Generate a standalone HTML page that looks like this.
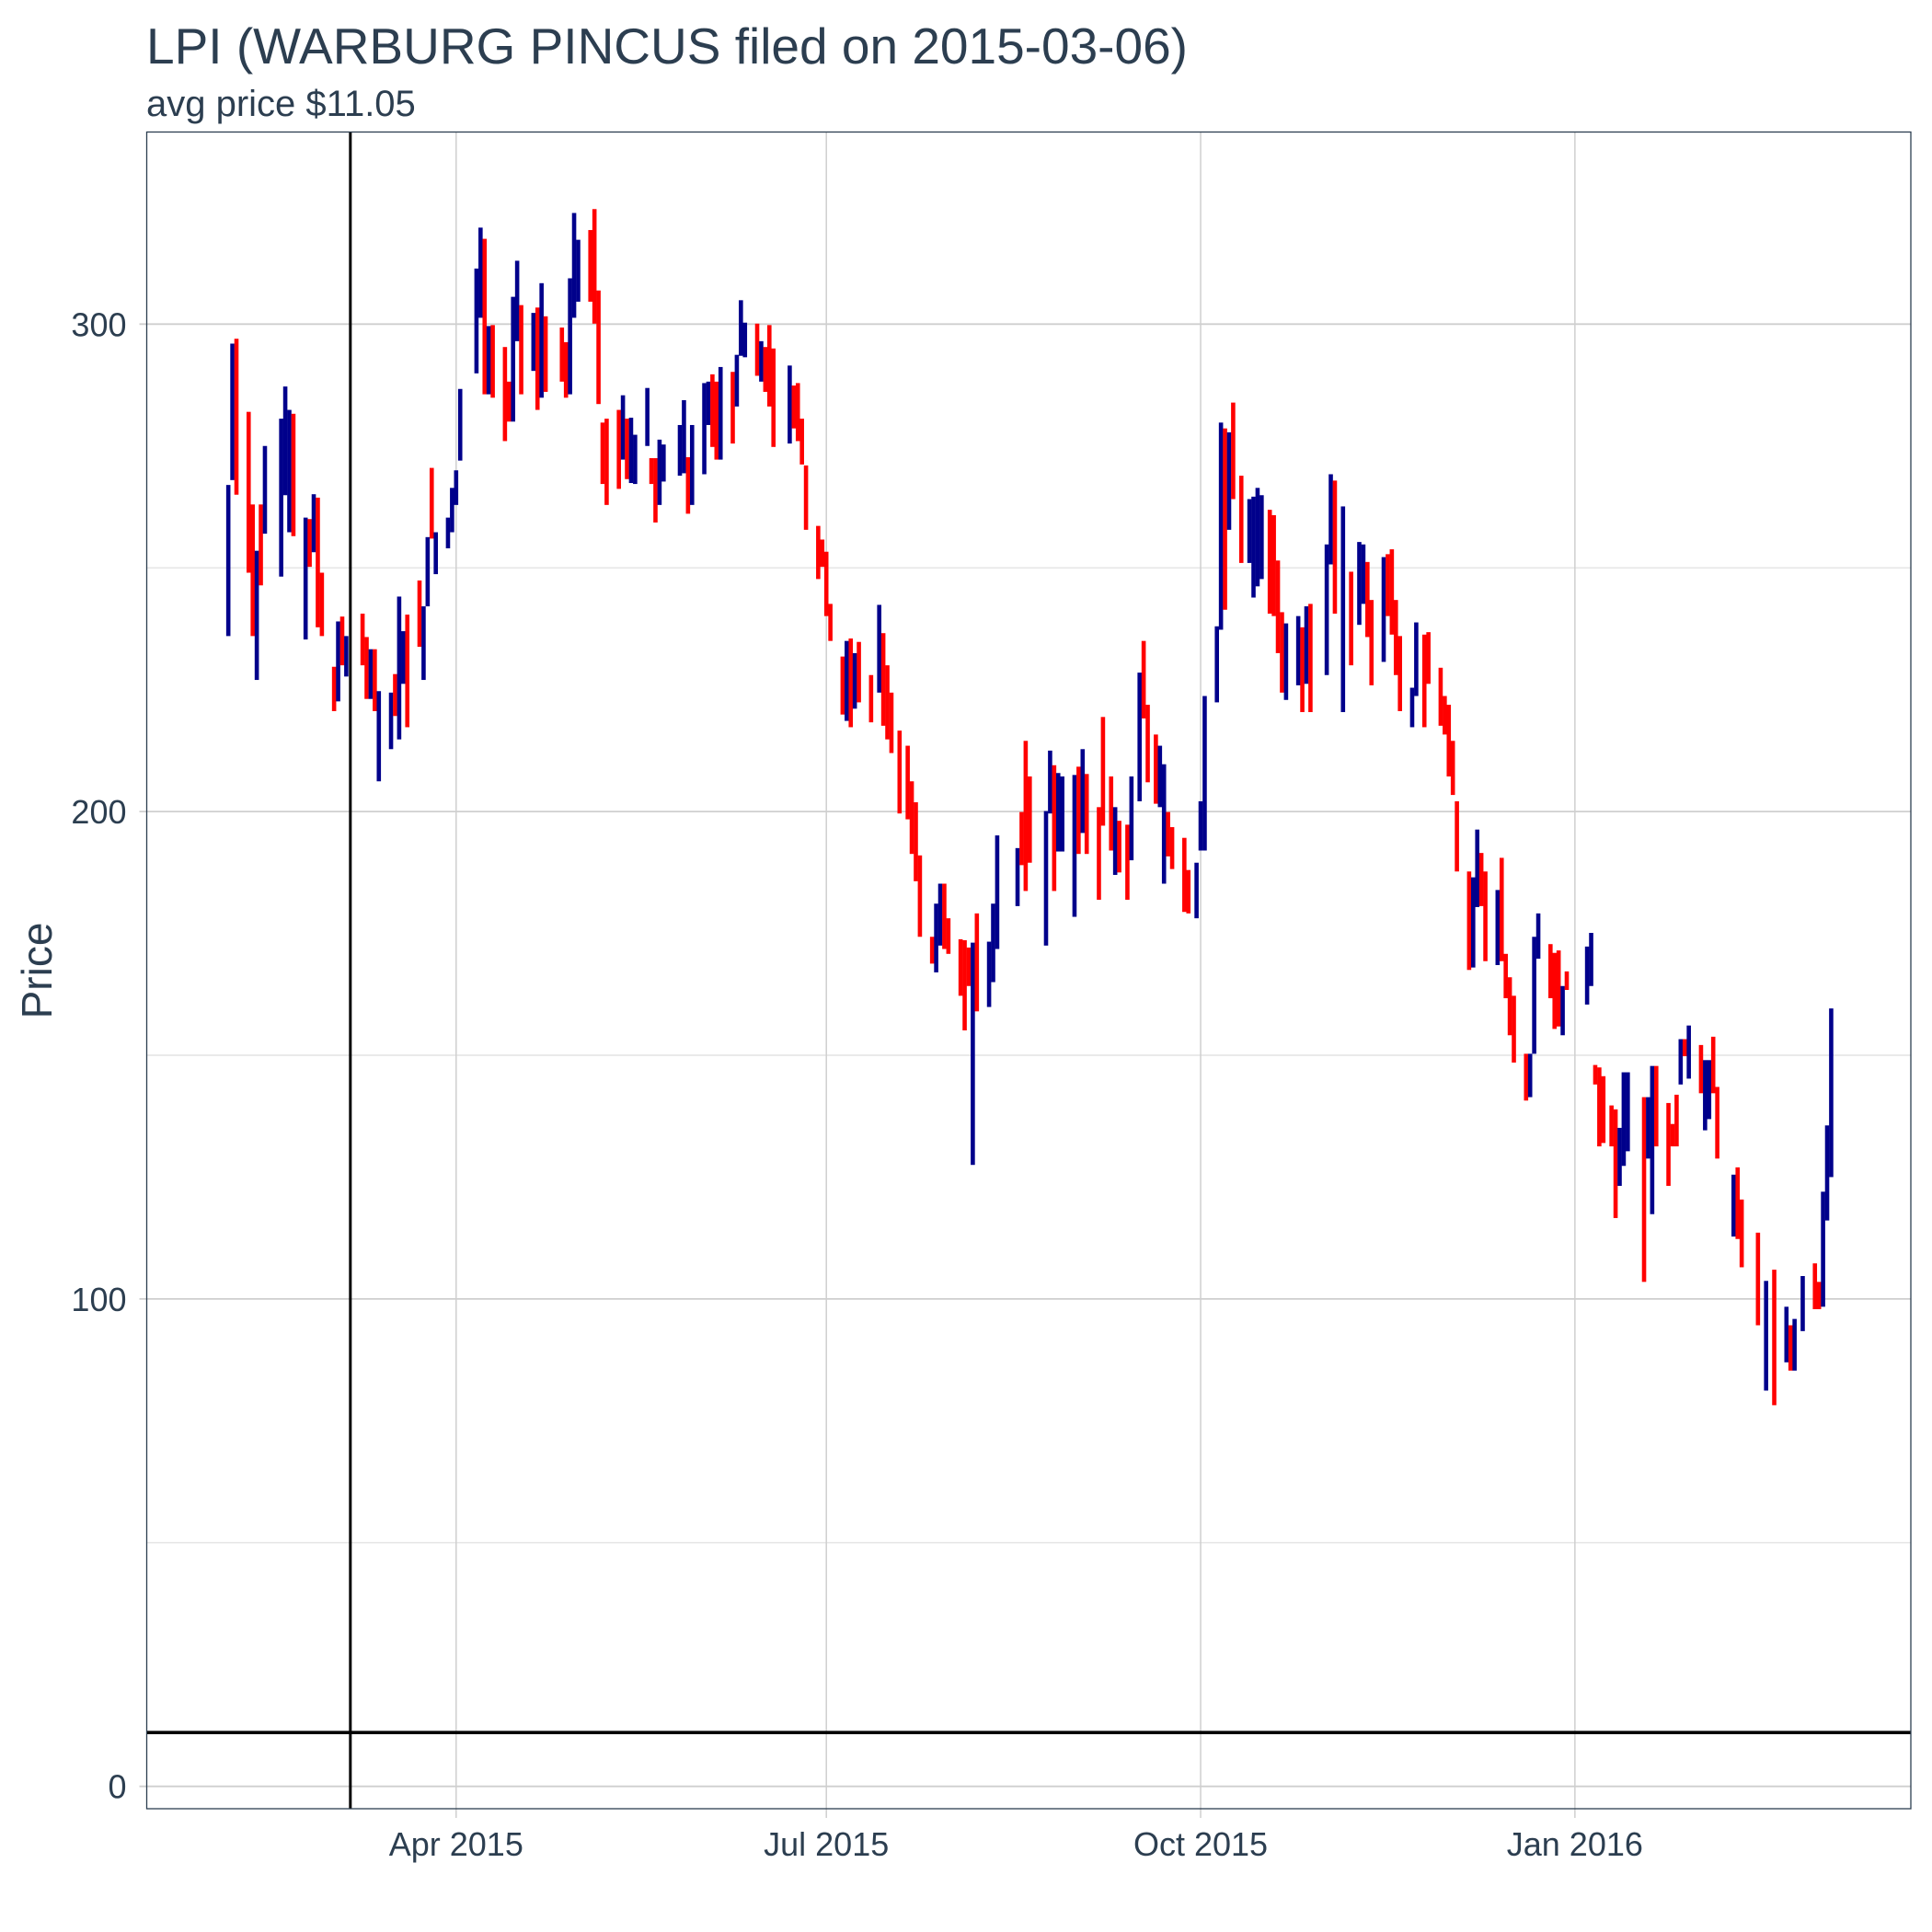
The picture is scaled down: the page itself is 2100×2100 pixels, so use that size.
<!DOCTYPE html>
<html><head><meta charset="utf-8"><style>
html,body{margin:0;padding:0;background:#fff;}
svg{display:block;font-family:"Liberation Sans",sans-serif;}
</style></head><body>
<svg id="chart" width="2100" height="2100" viewBox="0 0 2100 2100" xmlns="http://www.w3.org/2000/svg">
<rect x="0" y="0" width="2100" height="2100" fill="#fff"/>
<text x="159" y="69" font-size="55" fill="#2c3e50">LPI (WARBURG PINCUS filed on 2015-03-06)</text>
<text x="159" y="126" font-size="40" fill="#2c3e50">avg price $11.05</text>
<g id="grid"></g>
<g id="bars"></g>
<g id="refs"></g>
<g id="axes"></g>
<rect x="159.5" y="143.5" width="1917.5" height="1822.5" fill="none" stroke="#2c3e50" stroke-width="1.3"/>
<text transform="translate(56,1055) rotate(-90)" text-anchor="middle" font-size="46" fill="#2c3e50">Price</text>
</svg>
<script>
// day offsets from 2015-04-01
const days = [-56,-55,-54,-51,-50,-49,-48,-47,-43,-42,-41,-40,-37,-36,-35,-34,-33,-30,-29,-28,-27,-23,-22,-21,-20,-19,-16,-15,-14,-13,-12,-9,-8,-7,-6,-5,-2,-1,0,1,5,6,7,8,9,12,13,14,15,16,19,20,21,22,26,27,28,29,30,33,34,35,36,37,40,41,42,43,44,47,48,49,50,51,55,56,57,58,61,62,63,64,65,68,69,70,71,74,75,76,77,78,82,83,84,85,86,89,90,91,92,95,96,97,98,99,102,104,105,106,107,109,111,112,113,114,117,118,119,120,121,124,125,126,127,128,131,132,133,138,139,140,141,145,146,147,148,149,152,153,154,155,158,159,161,162,163,165,166,168,169,170,172,173,174,175,176,179,180,182,183,184,187,188,189,190,191,193,195,196,197,198,200,201,202,203,204,207,208,209,210,214,215,216,218,220,222,223,224,225,228,229,230,231,232,235,236,238,239,242,243,244,245,246,249,250,251,252,253,256,257,258,259,260,263,264,265,266,269,270,271,272,273,278,279,280,281,282,284,285,286,287,288,292,293,294,295,298,299,300,301,302,303,306,307,308,309,310,314,315,316,320,322,324,327,328,329,331,334,335,336,337,338];
const highs = [267,296,297,282,263,253.5,263,275,280.6,287.2,282.4,281.6,260.3,260,265.1,264.4,249,229.7,239,240,236,240.6,235.8,233.3,233.3,224.7,224.4,228.2,244.1,237,240.4,247.4,242.1,256.3,270.5,257.3,260.3,266.4,270,286.7,311.4,319.8,317.5,299.6,299.8,295.3,288.2,305.6,313,303.9,302.3,303.4,308.4,301.6,299.3,296.3,309.4,322.8,317.3,319.3,323.6,306.9,279.8,280.6,282.4,285.4,280.6,280.8,277.3,286.9,272.5,272.5,276.3,275.3,279.3,284.4,272.7,279.3,287.9,288.2,289.7,288.2,291.2,290.2,293.7,304.9,300.3,300.1,296.5,295.3,299.8,295,291.5,287.4,287.9,280.6,271,258.6,255.8,253.3,242.6,231.8,235,235.5,232.5,234.8,228,242.4,236.6,230,224.4,216.6,213.5,206.2,201.9,191,174.3,181.1,185.2,185.2,178.1,173.8,173.6,172.1,173.1,179.1,173.3,181.1,195.1,192.5,199.9,214.5,207.2,200.1,212.5,209.5,207.9,207.2,207.5,209.2,212.8,207.7,200.9,219.4,207.2,200.9,198.1,197.3,207.2,228.5,235,221.9,215.8,213.5,209.7,199.9,196.8,194.6,188,189.5,202.1,223.7,238,279.8,278.6,277.8,283.9,268.9,264.1,264.6,266.4,264.9,261.9,260.8,251.5,240.9,238.6,240.1,237.8,242.1,242.6,254.8,269.2,267.9,262.6,249.2,255.3,254.8,251.2,243.4,252.2,252.8,253.8,243.4,236,225.4,238.8,236.3,236.8,229.5,223.7,221.9,214.5,202.1,187.7,186.5,196.3,191.5,187.7,183.9,190.5,170.8,166,162.2,150.3,150.3,174.3,179.1,172.8,171,171.5,164.2,167.2,172.3,175.1,148,147.5,145.7,139.7,138.9,135.1,146.5,146.5,141.4,141.4,147.8,147.8,140.2,135.9,141.9,153.3,153.3,156.1,152.1,149,149,153.8,143.5,125.5,127,120.4,113.6,103.7,106,98.4,94.6,95.9,104.7,107.3,103.5,122,135.6,159.6];
const lows = [236,268,265,249,236,227,246.4,257,248.2,264.9,257.3,256.5,235.3,250.2,253.2,237.8,236,220.6,222.6,230,227.7,230,223.1,223.1,220.6,206.2,212.8,219.6,214.8,226.2,217.3,233.8,227,242.1,256,248.7,254,257.3,262.9,272,289.9,301.3,285.6,285.6,284.9,276,280,280,296.5,285.6,290.4,282.4,284.9,286.1,288.2,284.9,285.6,301.3,304.6,304.6,300.1,283.6,267.2,262.9,266.2,272.2,268.2,267.4,267.2,275,267.2,259.3,262.9,267.7,268.9,269.4,261.1,262.9,269.2,279.3,274.8,272.2,272.2,275.5,283.1,293.5,293.2,289.4,288.2,286.1,283.1,274.8,275.5,278.6,276,271.2,257.8,247.7,250.2,240.1,235,219.9,218.6,217.3,221.1,222.4,218.3,224.4,217.6,214.8,212,199.6,198.4,191.3,185.7,174.3,168.8,167,172.5,171.8,170.8,162.2,155.1,164.2,127.5,159,159.9,165,171.8,180.6,189,183.7,189.5,172.5,199.6,183.7,191.8,191.8,178.4,191.3,195.6,191.3,181.9,197.1,192,187,187.5,181.9,190,202.1,219.1,206,201.6,200.9,185.2,190.8,188.2,179.4,179.1,178.1,192,192,222.4,237.3,241.4,257.8,264.1,251,251,243.9,246.2,247.7,240.6,240.1,232.5,224.4,222.9,225.9,220.4,226.2,220.4,228,250.7,240.6,220.4,230,238.3,242.6,235.8,225.9,230.7,240.1,236.3,228,220.6,217.3,223.7,217.3,226.2,217.6,215.8,207.2,203.4,187.7,167.5,168,180.4,180.6,169.3,168.5,169.3,161.7,154.1,148.5,140.7,141.4,150.3,169.8,161.7,155.4,155.9,154.1,163.4,160.4,164.2,144,131.3,132,131.3,116.6,123.2,127.3,130.3,103.5,128.8,117.4,131.3,123.2,131.3,131.3,144,149.8,145.2,142.2,134.6,136.9,142.2,128.8,112.8,112.3,106.5,94.6,81.2,78.2,87,85.3,85.3,93.4,97.9,97.9,98.4,116.1,125];
const upDay = [1,1,0,0,0,1,0,1,1,1,1,0,1,0,1,0,0,0,1,0,1,0,0,1,0,1,1,0,1,1,0,0,1,1,0,1,1,1,1,1,1,1,0,1,0,0,0,1,1,0,1,0,1,0,0,0,1,1,1,0,0,0,0,0,0,1,0,1,1,1,0,0,1,1,1,1,0,1,1,1,0,0,1,0,1,1,1,0,1,0,0,0,1,0,0,0,0,0,0,0,0,0,1,0,1,0,0,1,0,0,0,0,0,0,0,0,0,1,1,0,0,0,0,0,1,0,1,1,1,1,0,0,0,1,1,0,1,1,1,0,1,0,0,0,0,1,0,0,1,1,0,0,0,1,1,0,0,0,0,1,1,1,1,1,0,1,0,0,1,1,1,1,0,0,0,0,1,1,0,1,0,1,1,0,1,0,1,1,0,0,1,0,0,0,0,1,1,0,0,0,0,0,0,0,0,1,1,0,0,1,0,0,0,0,0,1,1,1,0,0,0,1,0,1,1,0,0,0,0,0,1,1,1,0,1,1,0,0,0,0,1,0,1,0,1,1,0,0,1,0,0,0,1,0,1,0,1,1,0,0,1,1,1];
const yTicks = [0,100,200,300];
const yMinor = [50,150,250];
const xTickDays = [0,91,183,275];
const xTickLabels = ["Apr 2015","Jul 2015","Oct 2015","Jan 2016"];
const filingDay = -26;
const avgPrice = 11.05;

const NS = "http://www.w3.org/2000/svg";
const X0 = 159.5, X1 = 2077, Y0 = 143.5, Y1 = 1966;
function xs(d){ return 495.8 + d * 4.422; }
function ys(v){ return 1941.7 - v * 5.298; }
function mk(tag, attrs, parent){
  const e = document.createElementNS(NS, tag);
  for (const k in attrs) e.setAttribute(k, attrs[k]);
  parent.appendChild(e);
  return e;
}
const grid = document.getElementById('grid');
const axes = document.getElementById('axes');
yMinor.forEach(v => {
  const l = mk('line', {x1:X0, x2:X1, y1:ys(v), y2:ys(v), stroke:'#dedede', 'stroke-width':1.2}, grid);
  
  
});
yTicks.forEach(v => {
  const l = mk('line', {x1:X0-8, x2:X1, y1:ys(v), y2:ys(v), stroke:'#cfcfcf', 'stroke-width':1.8}, grid);
  
  
  const t = mk('text', {x:X0-22, y:ys(v)+13, 'text-anchor':'end', 'font-size':36, fill:'#2c3e50'}, axes);
  t.textContent = String(v);
  
  
});
xTickDays.forEach((d, i) => {
  const l = mk('line', {x1:xs(d), x2:xs(d), y1:Y0, y2:Y1+10, stroke:'#cfcfcf', 'stroke-width':1.5}, grid);
  
  
  const t = mk('text', {x:xs(d), y:2017, 'text-anchor':'middle', 'font-size':36, fill:'#2c3e50'}, axes);
  t.textContent = xTickLabels[i];
  
  
});
const bars = document.getElementById('bars');
days.forEach((d, i) => {
  const yh = ys(highs[i]), yl = ys(lows[i]);
  const r = mk('rect', {x:xs(d)-2.3, y:yh, width:4.6, height:Math.max(1, yl-yh), fill: upDay[i] ? '#00008b' : '#ff0000'}, bars);
  
  
});
const refs = document.getElementById('refs');
const vl = mk('line', {x1:xs(filingDay), x2:xs(filingDay), y1:Y0, y2:Y1, stroke:'#000', 'stroke-width':3}, refs);


const hl = mk('line', {x1:X0, x2:X1, y1:ys(avgPrice), y2:ys(avgPrice), stroke:'#000', 'stroke-width':3.6}, refs);


</script>
</body></html>
